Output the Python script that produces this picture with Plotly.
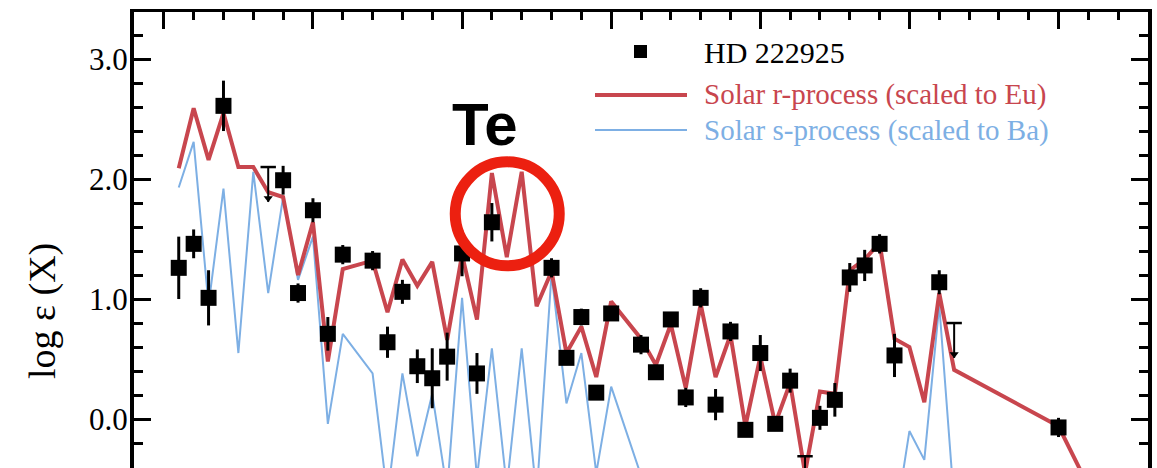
import plotly.graph_objects as go

# Observed abundances in HD 222925 (atomic number, log eps, uncertainty)
obs_z = [31, 32, 33, 34, 38, 39, 40, 41, 42, 44, 45, 46, 47, 48, 49, 50, 51, 52,
         56, 57, 58, 59, 60, 62, 63, 64, 65, 66, 67, 68, 69, 70, 71, 72,
         74, 75, 76, 77, 78, 79, 82, 90]
obs_val = [1.26, 1.46, 1.01, 2.61, 1.99, 1.05, 1.74, 0.71, 1.37, 1.32, 0.64, 1.06,
           0.44, 0.34, 0.52, 1.38, 0.38, 1.64,
           1.26, 0.51, 0.85, 0.22, 0.88, 0.62, 0.39, 0.83, 0.18, 1.01, 0.12, 0.73,
           -0.09, 0.55, -0.04, 0.32,
           0.01, 0.16, 1.18, 1.28, 1.46, 0.53, 1.14, -0.07]
obs_err = [0.26, 0.12, 0.23, 0.21, 0.12, 0.08, 0.10, 0.14, 0.08, 0.08, 0.13, 0.10,
           0.14, 0.25, 0.20, 0.19, 0.17, 0.16,
           0.08, 0.06, 0.07, 0.06, 0.06, 0.08, 0.06, 0.06, 0.08, 0.08, 0.13, 0.08,
           0.06, 0.15, 0.06, 0.10,
           0.10, 0.14, 0.12, 0.13, 0.08, 0.18, 0.10, 0.08]

# Upper limits (Rb, Ta, Bi)
ul_z = [37, 73, 83]
ul_val = [2.10, -0.31, 0.80]

# Solar r-process residuals, scaled to Eu
r_z = [31, 32, 33, 34, 35, 36, 37, 38, 39, 40, 41, 42, 44, 45, 46, 47, 48, 49, 50,
       51, 52, 53, 54, 55, 56, 57, 58, 59, 60, 62, 63, 64, 65, 66, 67, 68, 69, 70,
       71, 72, 73, 74, 75, 76, 77, 78, 79, 80, 81, 82, 83, 90, 92]
r_val = [2.09, 2.59, 2.16, 2.55, 2.10, 2.10, 1.89, 1.85, 1.20, 1.64, 0.48, 1.25,
         1.32, 0.89, 1.33, 1.11, 1.31, 0.66, 1.37,
         0.83, 2.05, 1.35, 2.06, 0.94, 1.23, 0.55, 0.77, 0.35, 0.98, 0.67, 0.45,
         0.79, 0.26, 0.96, 0.35, 0.70, -0.06, 0.52,
         -0.04, 0.30, -0.45, 0.23, 0.21, 1.24, 1.33, 1.47, 0.67, 0.60, 0.14, 1.05,
         0.41, -0.06, -0.56]

# Solar s-process pattern, scaled to Ba
s_z = [31, 32, 33, 34, 35, 36, 37, 38, 39, 40, 41, 42, 44, 45, 46, 47, 48, 49, 50,
       51, 52, 53, 54, 55, 56, 57, 58, 59, 60, 62, 63, 64, 65, 66, 67, 68, 69, 70,
       71, 72, 73, 74, 75, 76, 77, 78, 79, 80, 81, 82, 83]
s_val = [1.93, 2.31, 0.95, 1.92, 0.55, 2.06, 1.05, 1.85, 1.16, 1.52, -0.04, 0.71,
         0.38, -0.65, 0.38, -0.31, 0.21, -0.60, 1.01,
         -0.49, 0.59, -0.57, 0.59, -0.64, 1.21, 0.13, 0.55, -0.45, 0.27, -0.47,
         -1.90, -0.57, -1.75, -0.72, -1.52, -0.75, -1.69, -0.50,
         -1.48, -0.50, -1.43, -0.52, -1.69, -0.60, -1.52, -0.58, -0.90, -0.10,
         -0.34, 0.95, -0.70]

RED = "rgb(200,70,78)"
BLUE = "rgb(125,175,228)"
SERIF = "Liberation Serif"
ARROW = 0.29

fig = go.Figure()

fig.add_trace(go.Scatter(x=s_z, y=s_val, mode="lines",
                         line=dict(color=BLUE, width=2), showlegend=False))
fig.add_trace(go.Scatter(x=r_z, y=r_val, mode="lines",
                         line=dict(color=RED, width=4), showlegend=False))
fig.add_trace(go.Scatter(
    x=obs_z, y=obs_val, mode="markers",
    marker=dict(symbol="square", size=16, color="black"),
    error_y=dict(type="data", array=obs_err, thickness=3, width=0, color="black"),
    showlegend=False))
# upper limits: cap + shaft + arrowhead
fig.add_trace(go.Scatter(
    x=ul_z, y=ul_val, mode="markers",
    marker=dict(symbol="line-ew", size=11, line=dict(width=2.5, color="black")),
    error_y=dict(type="data", symmetric=False, array=[0] * len(ul_z),
                 arrayminus=[ARROW] * len(ul_z), thickness=2, width=0, color="black"),
    showlegend=False))
fig.add_trace(go.Scatter(
    x=ul_z, y=[v - ARROW + 0.03 for v in ul_val], mode="markers",
    marker=dict(symbol="triangle-down", size=8, color="black"),
    showlegend=False))

W, H = 1157, 468
ML, MR, MT, MB = 134, 9, 12, 0
PW, PH = W - ML - MR, H - MT - MB


def px(x):
    return (x - ML) / PW


def py(y):
    return (H - MB - y) / PH


shapes = [
    # legend glyphs
    dict(type="rect", xref="paper", yref="paper",
         x0=px(634), x1=px(647), y0=py(58), y1=py(45),
         fillcolor="black", line=dict(width=0)),
    dict(type="line", xref="paper", yref="paper",
         x0=px(595), x1=px(687), y0=py(95), y1=py(95),
         line=dict(color=RED, width=4)),
    dict(type="line", xref="paper", yref="paper",
         x0=px(595), x1=px(687), y0=py(130), y1=py(130),
         line=dict(color=BLUE, width=2)),
    # highlight ring around the Te peak
    dict(type="circle", xref="x", yref="y", xsizemode="pixel", ysizemode="pixel",
         xanchor=53.03, yanchor=1.71, x0=-52, x1=52, y0=-52, y1=52,
         line=dict(color="rgb(236,32,16)", width=11)),
]

annotations = [
    dict(text="HD 222925", x=px(702), y=py(52), xref="paper", yref="paper",
         xanchor="left", yanchor="middle", showarrow=False,
         font=dict(family=SERIF, size=30, color="black")),
    dict(text="Solar r-process (scaled to Eu)", x=px(702), y=py(95),
         xref="paper", yref="paper", xanchor="left", yanchor="middle",
         showarrow=False, font=dict(family=SERIF, size=29, color=RED)),
    dict(text="Solar s-process (scaled to Ba)", x=px(702), y=py(130),
         xref="paper", yref="paper", xanchor="left", yanchor="middle",
         showarrow=False, font=dict(family=SERIF, size=29, color=BLUE)),
    dict(text="<b>Te</b>", x=px(485), y=py(124), xref="paper", yref="paper",
         xanchor="center", yanchor="middle", showarrow=False,
         font=dict(family="Liberation Sans", size=60, color="black")),
    dict(text="log ε (X)", x=px(42), y=py(311), xref="paper", yref="paper",
         xanchor="center", yanchor="middle", textangle=-90, showarrow=False,
         font=dict(family=SERIF, size=38, color="black")),
]

fig.update_layout(
    width=W, height=H,
    margin=dict(l=ML, r=MR, t=MT, b=MB, pad=0),
    paper_bgcolor="white", plot_bgcolor="white",
    shapes=shapes, annotations=annotations,
    showlegend=False,
    xaxis=dict(range=[28, 96], side="top", showline=True, linewidth=3,
               linecolor="black", mirror=False, ticks="inside", ticklen=17,
               tickwidth=2.5, tickcolor="black", tick0=0, dtick=10,
               showticklabels=False, showgrid=False, zeroline=False,
               minor=dict(ticks="inside", ticklen=8, tickwidth=2.5,
                          tickcolor="black", dtick=2, showgrid=False)),
    yaxis=dict(range=[-0.408, 3.392], showline=True, linewidth=4,
               linecolor="black", mirror="ticks", ticks="inside", ticklen=17,
               tickwidth=2.5, tickcolor="black", tick0=0, dtick=1,
               tickformat=".1f", showgrid=False, zeroline=False,
               ticklabelstandoff=-4,
               tickfont=dict(family=SERIF, size=31, color="black"),
               minor=dict(ticks="inside", ticklen=9, tickwidth=2.5,
                          tickcolor="black", dtick=0.2, showgrid=False)),
)

fig.write_html("out.html")
